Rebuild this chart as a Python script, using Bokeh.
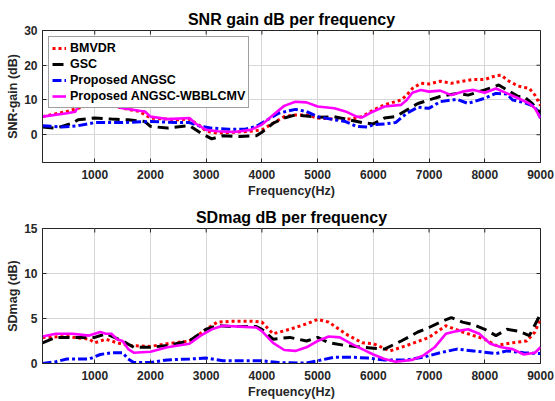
from bokeh.plotting import figure
from bokeh.layouts import column
from bokeh.models import Range1d, FixedTicker, Legend, LegendItem
from bokeh.embed import file_html
from bokeh.resources import INLINE
import math

# ---------------- data: SNR gain (dB) ----------------
f_bmvdr_snr = [62.5, 500, 700, 1000, 1200, 1500, 1800, 2000, 2500, 2700, 2900, 3000, 3200, 3500, 3800,
               4000, 4200, 4400, 4600, 4800, 5000, 5300, 5600, 5800, 6000, 6200, 6500, 6600, 6700, 6850,
               7000, 7200, 7400, 7600, 7800, 8000, 8200, 8300, 8400, 8600, 8800, 8900, 9000]
bmvdr_snr = [5.2, 6.7, 7.6, 9.0, 9.0, 7.6, 6.7, 4.8, 4.3, 4.5, 2.4, 1.0, 0.5, 0.7, 1.0,
             1.4, 3.3, 5.2, 5.7, 5.7, 4.8, 4.5, 4.5, 5.2, 7.1, 8.6, 10.0, 11.4, 13.3, 14.8,
             14.6, 15.4, 14.8, 15.4, 15.9, 15.9, 17.0, 17.1, 15.7, 14.0, 13.3, 11.4, 8.4]

f_gsc_snr = [62.5, 300, 600, 700, 1000, 1300, 1600, 1900, 2000, 2300, 2700, 2900, 3100, 3300, 3600,
             3900, 4000, 4200, 4400, 4600, 4800, 5000, 5300, 5500, 5800, 6000, 6200, 6400, 6600, 6800,
             7000, 7200, 7500, 7700, 8000, 8250, 8400, 8600, 8700, 8850, 9000]
gsc_snr = [2.2, 1.9, 3.3, 4.3, 4.8, 4.5, 4.3, 3.8, 2.4, 1.9, 2.6, 0.5, -1.2, -0.3, -0.5,
           -0.3, 0.7, 3.3, 4.8, 5.7, 5.4, 5.0, 5.2, 4.5, 3.5, 3.1, 4.8, 5.2, 7.1, 9.0,
           10.0, 11.0, 11.9, 11.4, 12.9, 14.3, 12.9, 11.0, 11.0, 9.0, 6.2]

f_angsc_snr = [62.5, 400, 700, 1000, 1500, 2000, 2500, 2700, 2900, 3100, 3400, 3700, 3900, 4100, 4300,
               4600, 4800, 5000, 5300, 5500, 5700, 5900, 6000, 6200, 6400, 6600, 6800, 7000, 7200, 7500,
               7700, 8000, 8200, 8400, 8500, 8700, 8900, 9000]
angsc_snr = [2.6, 2.2, 2.6, 3.5, 3.5, 3.8, 3.5, 3.5, 2.4, 1.9, 1.6, 1.6, 2.4, 4.3, 6.2,
             7.3, 6.7, 5.2, 4.3, 3.8, 2.4, 2.2, 2.9, 3.1, 3.5, 6.2, 7.9, 7.6, 9.5, 10.2,
             9.0, 10.5, 11.9, 11.7, 10.0, 9.3, 8.1, 4.8]

f_wbb_snr = [62.5, 500, 650, 700, 1000, 1200, 1500, 1800, 1900, 2000, 2300, 2700, 2800, 3000, 3200,
             3500, 3800, 4000, 4200, 4400, 4600, 4800, 5000, 5300, 5500, 5700, 5800, 6000, 6200, 6500,
             6600, 6700, 6850, 7000, 7200, 7400, 7600, 7800, 8000, 8200, 8400, 8600, 8800, 8900, 9000]
wbb_snr = [5.2, 6.2, 6.6, 8.1, 8.9, 9.0, 7.6, 6.9, 6.7, 5.2, 4.5, 4.8, 3.3, 1.4, 1.0,
           0.8, 1.4, 2.9, 5.7, 8.3, 9.5, 9.3, 8.1, 7.6, 6.7, 5.2, 5.0, 6.7, 8.1, 8.6,
           10.0, 12.1, 12.9, 12.4, 12.7, 11.4, 12.4, 12.9, 12.1, 13.3, 11.9, 10.5, 9.0, 7.6, 4.8]

# ---------------- data: SDmag (dB) ----------------
f_bmvdr_sd = [62.5, 500, 900, 1000, 1200, 1400, 1600, 2000, 2300, 2700, 3000, 3200, 3500, 3800, 4000,
              4200, 4500, 4800, 5000, 5200, 5500, 5800, 6000, 6300, 6600, 7000, 7300, 7600, 8000, 8200,
              8500, 8750, 8900, 9000]
bmvdr_sd = [2.9, 3.0, 2.7, 2.3, 2.7, 2.3, 2.0, 1.9, 2.2, 2.5, 3.8, 4.6, 4.7, 4.7, 4.6,
            3.3, 3.8, 4.4, 4.9, 4.6, 3.3, 2.3, 2.2, 1.4, 2.0, 2.9, 4.2, 3.5, 2.7, 2.0,
            2.3, 2.5, 3.5, 5.0]

f_gsc_sd = [62.5, 300, 700, 1000, 1200, 1500, 1700, 2000, 2300, 2700, 3000, 3200, 3500, 3900, 4000,
            4200, 4500, 4800, 5000, 5200, 5500, 5800, 6000, 6200, 6500, 6800, 7000, 7200, 7400, 7600,
            7800, 8000, 8200, 8400, 8600, 8800, 9000]
gsc_sd = [2.3, 2.9, 2.9, 2.9, 3.3, 2.5, 1.8, 1.8, 2.0, 2.5, 3.8, 4.2, 4.1, 4.1, 3.8,
          2.7, 2.9, 2.5, 2.9, 2.3, 2.0, 1.8, 1.7, 1.6, 2.5, 3.5, 4.0, 4.6, 5.1, 4.6,
          4.3, 3.8, 3.1, 3.8, 3.6, 3.1, 5.5]

f_angsc_sd = [62.5, 300, 500, 900, 1100, 1300, 1500, 1600, 1700, 2000, 2300, 2700, 3000, 3300, 3800,
              4000, 4300, 4800, 5000, 5300, 5600, 5900, 6200, 6600, 6900, 7200, 7500, 7800, 8200, 8400,
              8700, 9000]
angsc_sd = [0.0, 0.2, 0.5, 0.5, 1.0, 1.2, 1.2, 0.5, 0.1, 0.1, 0.4, 0.5, 0.6, 0.3, 0.3,
            0.3, 0.1, 0.05, 0.3, 0.7, 0.7, 0.6, 0.4, 0.4, 0.7, 1.2, 1.6, 1.4, 1.1, 1.4,
            1.2, 1.1]

f_wbb_sd = [62.5, 300, 600, 900, 1000, 1100, 1200, 1300, 1400, 1500, 1600, 1700, 2000, 2300, 2700,
            2900, 3100, 3300, 3600, 3900, 4000, 4200, 4400, 4600, 4800, 5000, 5200, 5400, 5600, 5800,
            6000, 6200, 6400, 6700, 6900, 7100, 7300, 7500, 7700, 7900, 8100, 8300, 8500, 8700, 8900, 9000]
wbb_sd = [3.0, 3.3, 3.3, 3.1, 3.3, 3.5, 3.3, 3.3, 2.7, 2.5, 1.6, 1.2, 1.3, 1.8, 2.2,
          3.1, 3.8, 4.2, 4.1, 4.0, 3.6, 2.3, 1.5, 1.4, 1.8, 2.5, 3.0, 2.9, 2.2, 1.6,
          1.0, 0.5, 0.2, 0.4, 0.9, 1.8, 3.3, 3.6, 3.8, 3.3, 2.2, 1.8, 1.6, 1.0, 1.2, 1.8]

x_ticks = [1000, 2000, 3000, 4000, 5000, 6000, 7000, 8000, 9000]
snr_yticks = [0, 10, 20, 30]
sd_yticks = [0, 5, 10, 15]
names = ["BMVDR", "GSC", "Proposed ANGSC", "Proposed ANGSC-WBBLCMV"]

FONT = "Liberation Sans"
DARK = "#262626"
GRID = "#d6d6d6"
X_MIN, X_MAX = 62.5, 9000

styles = [
    dict(line_color="#ff0000", line_width=3, line_dash="3 3"),
    dict(line_color="#000000", line_width=3, line_dash="11 6"),
    dict(line_color="#0000ff", line_width=3, line_dash="9 3 3 3"),
    dict(line_color="#ff00ff", line_width=2.6),
]


def make_fig(title, ylabel, yr, yticks, height, top, bottom, series, legend):
    p = figure(width=555, height=height, output_backend="svg", toolbar_location=None,
               x_range=Range1d(X_MIN, X_MAX), y_range=Range1d(*yr),
               min_border_left=42, min_border_right=15,
               min_border_top=top, min_border_bottom=bottom,
               background_fill_color="white", border_fill_color="white")
    p.title.text = title
    p.title.align = "center"
    p.title.text_font = FONT
    p.title.text_font_style = "bold"
    p.title.text_font_size = "16px"
    p.title.text_color = "#000000"
    p.title.standoff = 5
    p.outline_line_color = DARK
    p.outline_line_width = 1

    for ax in p.xaxis + p.yaxis:
        ax.major_label_text_font = FONT
        ax.major_label_text_font_style = "bold"
        ax.major_label_text_font_size = "12px"
        ax.major_label_text_color = DARK
        ax.axis_label_text_font = FONT
        ax.axis_label_text_font_style = "bold"
        ax.axis_label_text_font_size = "12.5px"
        ax.axis_label_text_color = DARK
        ax.axis_line_color = DARK
        ax.major_tick_line_color = DARK
        ax.major_tick_in = 4
        ax.major_tick_out = 0
        ax.minor_tick_line_color = None
    p.xaxis.major_label_standoff = 7
    p.xaxis.axis_label_standoff = 2
    p.yaxis.major_label_standoff = 5
    p.yaxis.axis_label_standoff = 1
    p.xaxis.ticker = FixedTicker(ticks=x_ticks)
    p.yaxis.ticker = FixedTicker(ticks=yticks)
    p.xaxis.axis_label = "Frequency(Hz)"
    p.yaxis.axis_label = ylabel
    p.xgrid.ticker = FixedTicker(ticks=x_ticks)
    p.ygrid.ticker = FixedTicker(ticks=yticks)
    p.grid.grid_line_color = GRID
    p.grid.grid_line_width = 1

    # mirrored inward tick marks on the top and right frame edges (clipped to frame)
    p.scatter(x=x_ticks, y=[yr[1]] * len(x_ticks), marker="dash", angle=math.pi / 2,
              size=8, line_color=DARK, line_width=1)
    p.scatter(x=[X_MAX] * len(yticks), y=yticks, marker="dash",
              size=8, line_color=DARK, line_width=1)

    items = []
    for (fx, fy), st, nm in zip(series, styles, names):
        r = p.line(fx, fy, **st)
        items.append(LegendItem(label=nm, renderers=[r]))

    if legend:
        lg = Legend(items=items, location="top_left", margin=6, padding=3, spacing=0,
                    label_text_font=FONT, label_text_font_style="bold",
                    label_text_font_size="12.5px", label_text_color="#000000",
                    label_height=16, glyph_height=16, glyph_width=14, label_standoff=4,
                    border_line_color="#404040", border_line_width=1,
                    background_fill_color="white", background_fill_alpha=1.0)
        p.add_layout(lg, "center")
    return p


p1 = make_fig("SNR gain dB per frequency", "SNR-gain (dB)", (-8, 30), snr_yticks, 200, 30, 36,
              [(f_bmvdr_snr, bmvdr_snr), (f_gsc_snr, gsc_snr),
               (f_angsc_snr, angsc_snr), (f_wbb_snr, wbb_snr)], True)
p2 = make_fig("SDmag dB per frequency", "SDmag (dB)", (0, 15), sd_yticks, 201, 28, 38,
              [(f_bmvdr_sd, bmvdr_sd), (f_gsc_sd, gsc_sd),
               (f_angsc_sd, angsc_sd), (f_wbb_sd, wbb_sd)], False)

layout = column(p1, p2, spacing=0)
open("out.html", "w").write(file_html(layout, INLINE))
